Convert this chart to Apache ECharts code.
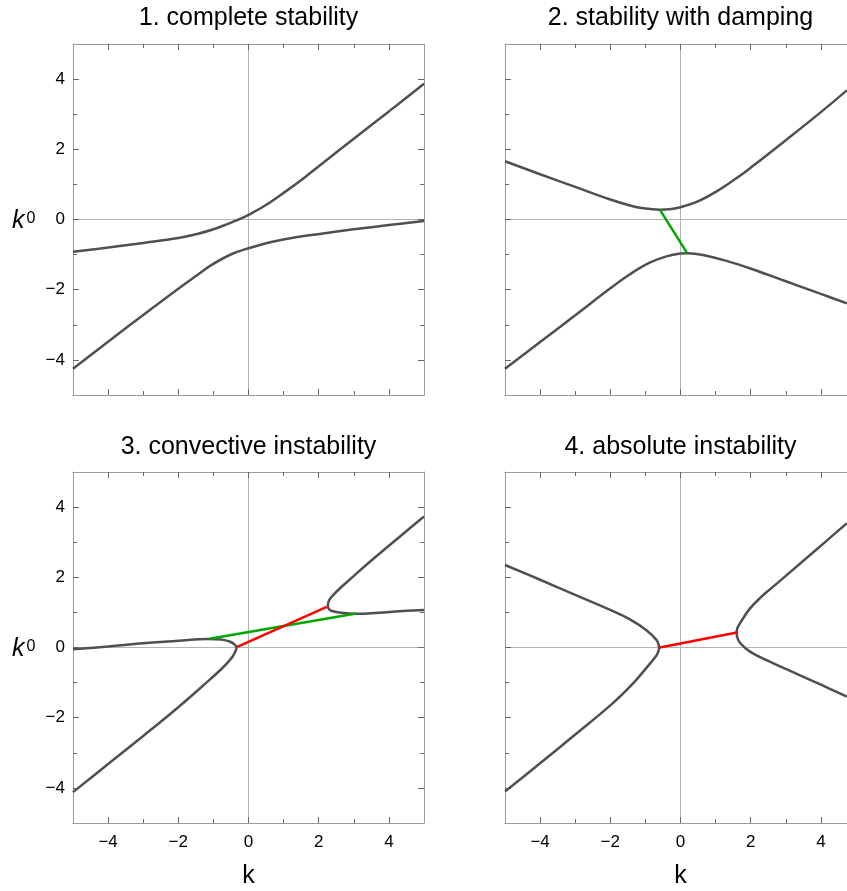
<!DOCTYPE html>
<html>
<head>
<meta charset="utf-8">
<title>Dispersion branches</title>
<script src="https://cdn.jsdelivr.net/npm/echarts@6.0.0/dist/echarts.min.js"></script>
<style>
  html, body { margin: 0; padding: 0; background: #fff; }
  #chart { width: 847px; height: 891px; }
</style>
</head>
<body>
<div id="chart"></div>
<script>
// panel titles
const titles = ['1. complete stability', '2. stability with damping', '3. convective instability', '4. absolute instability'];

// tick positions, same on both axes
const majorTicks = [-4, -2, 0, 2, 4];
const minorTicks = [-3, -1, 1, 3];

// 1. complete stability  [k, k0]
const p1Upper = [[-5,-0.92],[-4,-0.8],[-3,-0.67],[-2,-0.53],[-1.5,-0.42],[-1.06,-0.3],[-0.6,-0.13],[-0.26,0.01],[0,0.13],[0.46,0.39],[1.03,0.78],[1.6,1.2],[2.03,1.54],[3,2.3],[4,3.08],[5,3.87]];
const p1Lower = [[-5,-4.25],[-4,-3.48],[-3,-2.72],[-2,-1.97],[-1.5,-1.61],[-1.06,-1.3],[-0.49,-0.99],[0,-0.82],[0.65,-0.64],[1.31,-0.51],[2.03,-0.41],[3,-0.28],[4,-0.16],[5,-0.04]];

// 2. stability with damping
const p2Upper = [[-5,1.66],[-4,1.29],[-3,0.93],[-2,0.57],[-1.44,0.4],[-1.06,0.32],[-0.59,0.28],[-0.25,0.3],[0,0.35],[0.46,0.5],[1.03,0.8],[1.6,1.18],[2.03,1.5],[3,2.26],[4,3.06],[4.74,3.68]];
const p2Lower = [[-5,-4.25],[-4,-3.49],[-3,-2.73],[-2,-1.96],[-1.44,-1.56],[-0.88,-1.23],[-0.4,-1.05],[0,-0.97],[0.19,-0.96],[0.64,-1.01],[1.31,-1.18],[2.03,-1.41],[3,-1.76],[4,-2.12],[4.74,-2.39]];
const p2Green = [[-0.59,0.28],[0.19,-0.96]];

// 3. convective instability
const p3Left = [[-5,-0.05],[-4,0.03],[-3,0.12],[-2,0.19],[-1.16,0.24],[-0.78,0.23],[-0.54,0.17],[-0.4,0.09],[-0.34,0],[-0.38,-0.12],[-0.49,-0.31],[-0.78,-0.62],[-1.3,-1.09],[-2,-1.7],[-3,-2.52],[-4,-3.32],[-5,-4.12]];
const p3Right = [[5,3.73],[4.3,3.15],[3.55,2.52],[2.98,2.02],[2.6,1.68],[2.4,1.48],[2.3,1.35],[2.26,1.2],[2.29,1.1],[2.38,1.04],[2.64,0.99],[3.07,0.96],[3.7,0.99],[4.3,1.03],[5,1.07]];
const p3Green = [[-1.11,0.25],[3.07,0.97]];
const p3Red = [[-0.32,0.02],[2.23,1.16]];

// 4. absolute instability
const p4Left = [[-5,2.35],[-4,1.93],[-3,1.5],[-2,1.07],[-1.44,0.8],[-0.97,0.49],[-0.68,0.21],[-0.63,0.1],[-0.61,0],[-0.63,-0.1],[-0.68,-0.22],[-0.97,-0.58],[-1.35,-1.02],[-2,-1.65],[-3,-2.48],[-4,-3.3],[-5,-4.1]];
const p4Right = [[4.74,3.54],[4,2.9],[3,2.04],[2.6,1.7],[2.3,1.44],[1.97,1.1],[1.69,0.68],[1.62,0.55],[1.6,0.42],[1.62,0.28],[1.69,0.14],[1.85,-0.02],[2.1,-0.19],[2.54,-0.4],[3,-0.61],[4,-1.06],[4.74,-1.4]];
const p4Red = [[-0.59,0],[1.61,0.43]];

const FONT = '"Liberation Sans", Arial, sans-serif';
const CURVE = '#505050', GREEN = '#00a800', RED = '#ff0000';
const SIZE = 351;
const gridPos = [[73, 44], [505, 44], [73, 472], [505, 472]];

const panels = [
  { grey: [p1Upper, p1Lower] },
  { grey: [p2Upper, p2Lower], green: p2Green },
  { grey: [p3Left, p3Right], green: p3Green, red: p3Red },
  { grey: [p4Left, p4Right], red: p4Red }
];

const minus = v => String(v).replace('-', '\u2212');

// one side of the frame: line + ticks (+ labels)
function sideAxis(gi, position, ticks, len, withLine, labels, margin) {
  return {
    type: 'value', gridIndex: gi, position: position, min: -5, max: 5,
    axisLine: { show: withLine, onZero: false, lineStyle: { color: '#9a9a9a', width: 1 } },
    axisTick: { show: true, inside: true, length: len, customValues: ticks, lineStyle: { color: '#666', width: 1 } },
    axisLabel: { show: labels, customValues: majorTicks, margin: margin, fontSize: 17, color: '#000', fontFamily: FONT, formatter: minus },
    splitLine: { show: false }
  };
}
// only draws the grey line through 0
function zeroAxis(gi, position) {
  return {
    type: 'value', gridIndex: gi, position: position, min: -5, max: 5, interval: 5,
    axisLine: { show: false, onZero: false }, axisTick: { show: false }, axisLabel: { show: false },
    splitLine: { show: true, lineStyle: { color: '#b3b3b3', width: 1 } }
  };
}

const grid = [], xAxis = [], yAxis = [], series = [];
panels.forEach((p, gi) => {
  grid.push({ left: gridPos[gi][0], top: gridPos[gi][1], width: SIZE, height: SIZE, outerBoundsMode: 'none' });
  const bottomRow = gi >= 2, leftCol = gi % 2 === 0;
  xAxis.push(
    sideAxis(gi, 'bottom', majorTicks, 6, true, bottomRow, 11),
    sideAxis(gi, 'top', majorTicks, 6, true, false, 8),
    sideAxis(gi, 'bottom', minorTicks, 4, false, false, 8),
    sideAxis(gi, 'top', minorTicks, 4, false, false, 8),
    zeroAxis(gi, 'bottom')
  );
  yAxis.push(
    sideAxis(gi, 'left', majorTicks, 6, true, leftCol, 8),
    sideAxis(gi, 'right', majorTicks, 6, true, false, 8),
    sideAxis(gi, 'left', minorTicks, 4, false, false, 8),
    sideAxis(gi, 'right', minorTicks, 4, false, false, 8),
    zeroAxis(gi, 'left')
  );
  const line = (data, color, smooth) => ({
    type: 'line', xAxisIndex: gi * 5, yAxisIndex: gi * 5, data: data,
    showSymbol: false, symbol: 'none', smooth: smooth, silent: true,
    lineStyle: { color: color, width: 2.5 }, z: 3
  });
  p.grey.forEach(d => series.push(line(d, CURVE, 0.4)));
  if (p.green) series.push(line(p.green, GREEN, false));
  if (p.red) series.push(line(p.red, RED, false));
});

// text: titles, axis names
const graphic = [];
titles.forEach((t, i) => {
  graphic.push({ type: 'text', x: gridPos[i][0] + SIZE / 2, y: i < 2 ? 18.5 : 446.7,
    style: { text: t, fontSize: 25, fontFamily: FONT, fill: '#000', align: 'center', verticalAlign: 'middle' } });
});
[0, 1].forEach(c => {
  graphic.push({ type: 'text', x: gridPos[c][0] + SIZE / 2, y: 876.3,
    style: { text: 'k', fontSize: 25, fontFamily: FONT, fill: '#000', align: 'center', verticalAlign: 'middle' } });
});
[221.3, 649].forEach(y => {
  graphic.push({ type: 'text', x: 12, y: y,
    style: { text: 'k', fontSize: 25, fontStyle: 'italic', fontFamily: FONT, fill: '#000', align: 'left', verticalAlign: 'middle' } });
  graphic.push({ type: 'text', x: 26.5, y: y - 2.5,
    style: { text: '0', fontSize: 16, fontFamily: FONT, fill: '#000', align: 'left', verticalAlign: 'middle' } });
});

const chart = echarts.init(document.getElementById('chart'), null, { renderer: 'canvas' });
chart.setOption({
  backgroundColor: '#fff',
  animation: false,
  grid: grid,
  xAxis: xAxis,
  yAxis: yAxis,
  series: series,
  graphic: graphic
});
</script>
</body>
</html>
